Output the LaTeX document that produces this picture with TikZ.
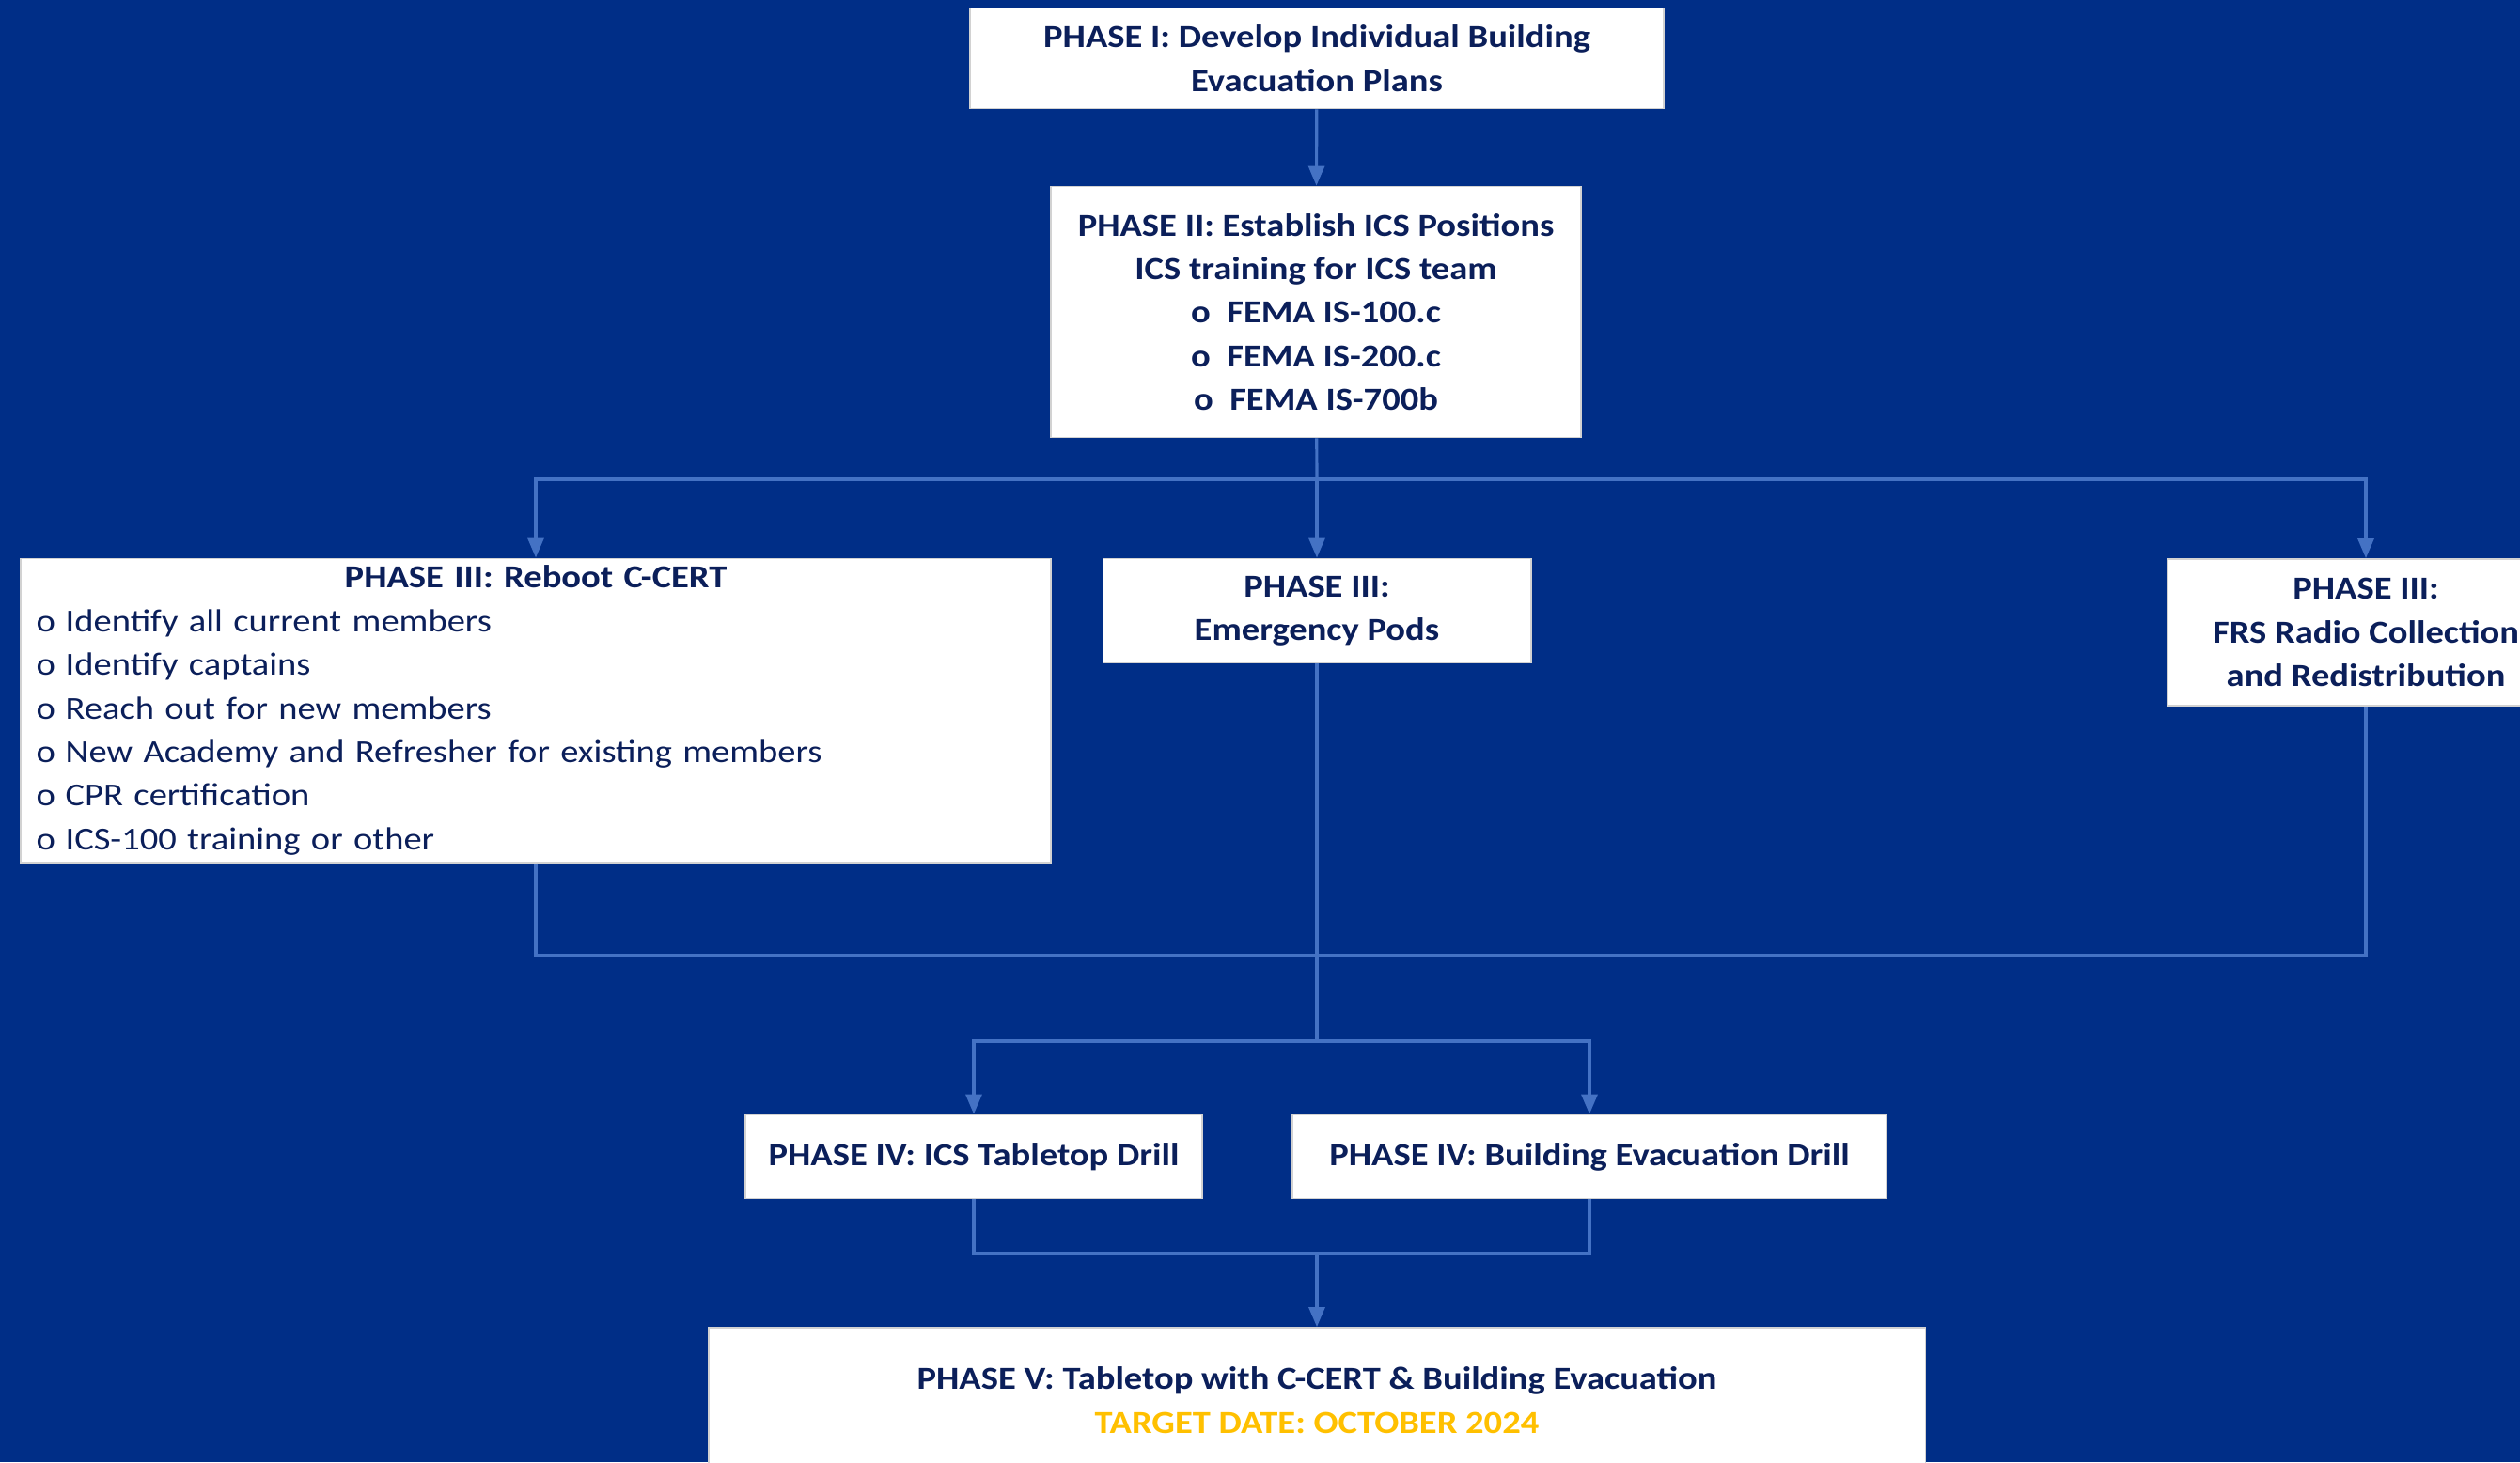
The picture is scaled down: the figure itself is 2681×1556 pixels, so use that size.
\documentclass[tikz,border=0pt]{standalone}
\usepackage{fontspec}
\setmainfont{Carlito}[FakeStretch=1.13]
\usetikzlibrary{arrows.meta}
\definecolor{pageBlue}{HTML}{002E87}
\definecolor{linkBlue}{HTML}{4472C4}
\definecolor{inkBlue}{HTML}{0B1F5A}
\definecolor{dateGold}{HTML}{FFC000}
\begin{document}
\begin{tikzpicture}[x=0.01cm, y=-0.01cm, >={Triangle[length=0.21cm, width=0.17cm]},
    phasebox/.style={draw=gray!35, line width=0.5pt, fill=white, text=inkBlue, inner sep=0pt,
        align=center, font=\fontsize{9.7pt}{13.2pt}\selectfont\bfseries},
    link/.style={draw=linkBlue, line width=0.9pt},
    arrow/.style={link, ->}]
    % Background
    \useasboundingbox (0,0) rectangle (2681,1556);
    \clip (0,0) rectangle (2681,1556);
    \fill[pageBlue] (0,0) rectangle (2681,1556);

    % Phases
    \node[phasebox, minimum width=7.37cm, minimum height=1.07cm] (phaseOne) at (1401,62)
        {PHASE I: Develop Individual Building\\Evacuation Plans};
    \node[phasebox, minimum width=5.64cm, minimum height=2.67cm] (phaseTwo) at (1400,332)
        {PHASE II: Establish ICS Positions\\ICS training for ICS team\\
         o\ \ FEMA IS-100.c\\o\ \ FEMA IS-200.c\\o\ \ FEMA IS-700b};
    \node[phasebox, minimum width=10.96cm, minimum height=3.23cm, inner xsep=0.17cm,
        text width=10.62cm, align=left] (phaseThreeCert) at (570,756)
        {\makebox[\linewidth][c]{PHASE III: Reboot C-CERT}\\\mdseries
         \makebox[0.31cm][l]{o}Identify all current members\\
         \makebox[0.31cm][l]{o}Identify captains\\
         \makebox[0.31cm][l]{o}Reach out for new members\\
         \makebox[0.31cm][l]{o}New Academy and Refresher for existing members\\
         \makebox[0.31cm][l]{o}CPR certification\\
         \makebox[0.31cm][l]{o}ICS-100 training or other};
    \node[phasebox, minimum width=4.55cm, minimum height=1.11cm] (phaseThreePods) at (1401,650)
        {PHASE III:\\Emergency Pods};
    \node[phasebox, minimum width=4.22cm, minimum height=1.56cm] (phaseThreeRadio) at (2517,673)
        {PHASE III:\\FRS Radio Collection\\and Redistribution};
    \node[phasebox, minimum width=4.86cm, minimum height=0.89cm] (phaseFourTabletop) at (1036,1231)
        {PHASE IV: ICS Tabletop Drill};
    \node[phasebox, minimum width=6.31cm, minimum height=0.89cm] (phaseFourEvac) at (1691,1231)
        {PHASE IV: Building Evacuation Drill};
    \node[phasebox, minimum width=12.94cm, minimum height=1.54cm] (phaseFive) at (1401,1490)
        {PHASE V: Tabletop with C-CERT \& Building Evacuation\\
         \textcolor{dateGold}{TARGET DATE: OCTOBER 2024}};

    % Branch and join points
    \coordinate (splitThree) at (1401,510);
    \coordinate (joinThree) at (1401,1017);
    \coordinate (splitFour) at (1401,1108);
    \coordinate (joinFour) at (1401,1334);

    % Connectors
    \draw[arrow] (phaseOne) -- (phaseTwo);
    \draw[link] (phaseTwo) -- (splitThree);
    \draw[arrow] (splitThree) -| (phaseThreeCert);
    \draw[arrow] (splitThree) -- (phaseThreePods);
    \draw[arrow] (splitThree) -| (phaseThreeRadio);
    \draw[link] (phaseThreeCert) |- (joinThree) -| (phaseThreeRadio);
    \draw[link] (phaseThreePods) -- (splitFour);
    \draw[arrow] (splitFour) -| (phaseFourTabletop);
    \draw[arrow] (splitFour) -| (phaseFourEvac);
    \draw[link] (phaseFourTabletop) |- (joinFour) -| (phaseFourEvac);
    \draw[arrow] (joinFour) -- (phaseFive);
\end{tikzpicture}
\end{document}
